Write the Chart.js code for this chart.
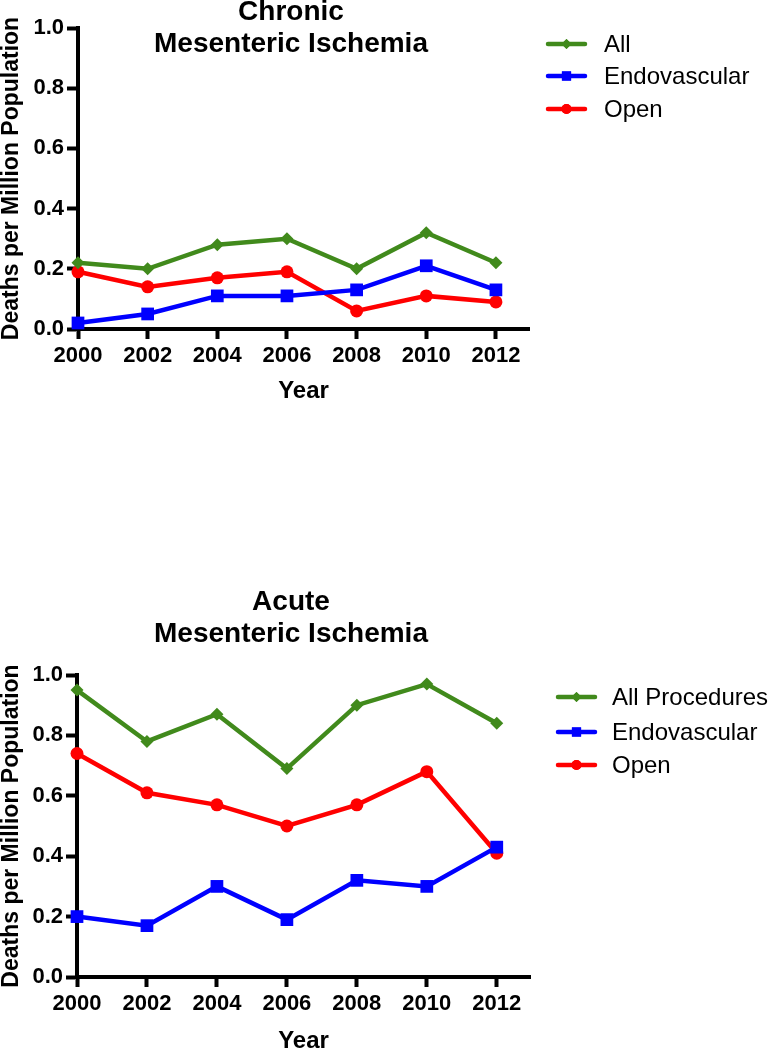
<!DOCTYPE html>
<html>
<head>
<meta charset="utf-8">
<script src="https://cdn.jsdelivr.net/npm/chart.js@4/dist/chart.umd.min.js"></script>
<style>
  html, body { margin: 0; padding: 0; background: #fff; }
  body { width: 773px; height: 1050px; position: relative; overflow: hidden; }
  canvas { position: absolute; left: 0; }
  #c1 { top: 0; }
  #c2 { top: 560px; }
</style>
</head>
<body>
<canvas id="c1" width="773" height="420"></canvas>
<canvas id="c2" width="773" height="490"></canvas>
<script>
// ---- Data ----
const years = [2000, 2002, 2004, 2006, 2008, 2010, 2012];
const yTicks = [0, 0.2, 0.4, 0.6, 0.8, 1.0];

const chronicTitle = ["Chronic", "Mesenteric Ischemia"];
const chronicLabels = ["All", "Endovascular", "Open"];
const chronicAll = [0.22, 0.20, 0.28, 0.30, 0.20, 0.32, 0.22];
const chronicEndo = [0.02, 0.05, 0.11, 0.11, 0.13, 0.21, 0.13];
const chronicOpen = [0.19, 0.14, 0.17, 0.19, 0.06, 0.11, 0.09];

const acuteTitle = ["Acute", "Mesenteric Ischemia"];
const acuteLabels = ["All Procedures", "Endovascular", "Open"];
const acuteAll = [0.95, 0.78, 0.87, 0.69, 0.90, 0.97, 0.84];
const acuteEndo = [0.20, 0.17, 0.30, 0.19, 0.32, 0.30, 0.43];
const acuteOpen = [0.74, 0.61, 0.57, 0.50, 0.57, 0.68, 0.41];

const yTitle = "Deaths per Million Population";
const xTitle = "Year";

// ---- Styles ----
const GREEN = '#418a1c', BLUE = '#0000ff', RED = '#ff0000';
const FONT = "'Liberation Sans', Arial, Helvetica, sans-serif";
const seriesStyle = [
  { color: GREEN, pointStyle: 'rectRot', radius: 6.5, legendRadius: 5 },
  { color: BLUE, pointStyle: 'rect', radius: 9, legendRadius: 6.5 },
  { color: RED, pointStyle: 'circle', radius: 6.5, legendRadius: 5 }
];

function makeDatasets(labels, series) {
  return series.map((vals, i) => ({
    label: labels[i],
    data: years.map((yr, j) => ({ x: yr, y: vals[j] })),
    borderColor: seriesStyle[i].color,
    backgroundColor: seriesStyle[i].color,
    borderWidth: 4.5,
    pointStyle: seriesStyle[i].pointStyle,
    pointRadius: seriesStyle[i].radius,
    pointHoverRadius: seriesStyle[i].radius,
    pointBorderWidth: 0,
    tension: 0,
    clip: false
  }));
}

// Draw title and legend at fixed positions
const decorPlugin = {
  id: 'decor',
  afterDraw(chart, args, opts) {
    const ctx = chart.ctx;
    ctx.save();
    ctx.fillStyle = '#000';
    ctx.font = "bold 28px " + FONT;
    ctx.textAlign = 'center';
    ctx.textBaseline = 'middle';
    opts.title.forEach((t, i) => ctx.fillText(t, opts.titleX, opts.titleY[i]));
    ctx.font = "24px " + FONT;
    ctx.textAlign = 'left';
    chart.data.datasets.forEach((ds, i) => {
      const y = opts.legendY[i];
      const st = seriesStyle[i];
      ctx.strokeStyle = st.color;
      ctx.lineWidth = 4.5;
      ctx.lineCap = 'round';
      ctx.beginPath();
      ctx.moveTo(opts.legendX1, y);
      ctx.lineTo(opts.legendX2, y);
      ctx.stroke();
      ctx.fillStyle = st.color;
      Chart.helpers.drawPoint(ctx, { pointStyle: st.pointStyle, radius: st.legendRadius, borderWidth: 0, rotation: 0 }, (opts.legendX1 + opts.legendX2) / 2, y);
      ctx.fill();
      ctx.fillStyle = '#000';
      ctx.fillText(ds.label, opts.legendTextX, y + 1);
    });
    ctx.restore();
  }
};

function makeChart(id, labels, series, title, cfg) {
  return new Chart(document.getElementById(id), {
    type: 'line',
    data: { datasets: makeDatasets(labels, series) },
    plugins: [decorPlugin],
    options: {
      responsive: false,
      animation: false,
      events: [],
      layout: { padding: { top: cfg.padTop, right: cfg.padRight, bottom: cfg.padBottom, left: 0 } },
      plugins: {
        legend: { display: false },
        title: { display: false },
        tooltip: { enabled: false },
        decor: {
          title: title, titleX: 291, titleY: cfg.titleY,
          legendY: cfg.legendY, legendX1: cfg.legendX1, legendX2: cfg.legendX2, legendTextX: cfg.legendTextX
        }
      },
      scales: {
        x: {
          type: 'linear',
          min: 2000,
          max: 2012.95,
          afterBuildTicks: s => { s.ticks = years.map(v => ({ value: v })); },
          afterFit: s => { s.height = cfg.xHeight; },
          border: { display: true, color: '#000', width: 4 },
          grid: { display: true, drawOnChartArea: false, drawTicks: true, tickLength: 10, tickWidth: 4, tickColor: '#000', color: '#000' },
          ticks: { color: '#000', font: { family: FONT, size: 22, weight: 'bold' }, padding: 4, maxRotation: 0, autoSkip: false, callback: v => String(v) },
          title: { display: true, text: xTitle, color: '#000', font: { family: FONT, size: 24, weight: 'bold', lineHeight: 0.75 }, padding: 0 }
        },
        y: {
          type: 'linear',
          min: 0,
          max: 1,
          afterBuildTicks: s => { s.ticks = yTicks.map(v => ({ value: v })); },
          afterFit: s => { s.width = cfg.yWidth; },
          border: { display: true, color: '#000', width: 4 },
          grid: { display: true, drawOnChartArea: false, drawTicks: true, tickLength: 11, tickWidth: 4, tickColor: '#000', color: '#000' },
          ticks: { color: '#000', font: { family: FONT, size: 22, weight: 'bold' }, padding: 3, callback: v => v.toFixed(1) },
          title: { display: true, text: yTitle, color: '#000', font: { family: FONT, size: 23, weight: 'bold', lineHeight: 1 }, padding: 0 }
        }
      }
    }
  });
}

makeChart('c1', chronicLabels, [chronicAll, chronicEndo, chronicOpen], chronicTitle, {
  padTop: 28, padRight: 244, padBottom: 20, xHeight: 71, yWidth: 78,
  titleY: [12, 44],
  legendY: [44, 76, 109], legendX1: 548, legendX2: 585, legendTextX: 604
});

makeChart('c2', acuteLabels, [acuteAll, acuteEndo, acuteOpen], acuteTitle, {
  padTop: 115, padRight: 243, padBottom: 0, xHeight: 73, yWidth: 77,
  titleY: [42, 74],
  legendY: [137, 172, 205], legendX1: 558, legendX2: 595, legendTextX: 612
});
</script>
</body>
</html>
